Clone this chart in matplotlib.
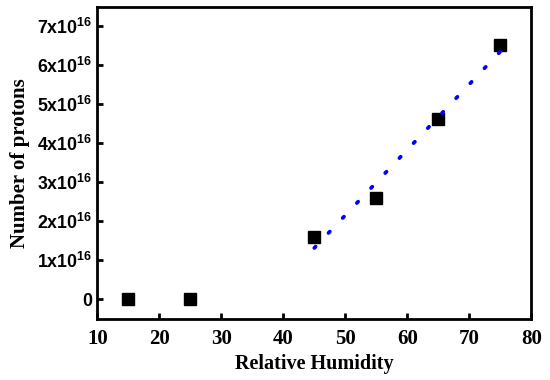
import matplotlib
matplotlib.use("Agg")
import matplotlib.pyplot as plt
import numpy as np

humidity = [15, 25, 45, 55, 65, 75]
protons = [0.0, 0.0, 1.59e16, 2.59e16, 4.62e16, 6.51e16]
fit_x = [45, 75]
x_ticks = [10, 20, 30, 40, 50, 60, 70, 80]
y_ticks = [0, 1e16, 2e16, 3e16, 4e16, 5e16, 6e16, 7e16]
y_labels = ["0"] + [r"%dx10$^{\mathbf{16}}$" % i for i in range(1, 8)]

plt.rcParams["mathtext.fontset"] = "custom"
plt.rcParams["mathtext.rm"] = "Liberation Sans:bold"
plt.rcParams["mathtext.bf"] = "Liberation Sans:bold"
plt.rcParams["mathtext.it"] = "Liberation Sans:bold"

fig = plt.figure(figsize=(5.5, 3.8), dpi=100)
ax = fig.add_axes([0.177, 0.1605, 0.789, 0.821])

# linear fit over the humid points
hx = np.array(humidity[2:])
hy = np.array(protons[2:])
k, b = np.polyfit(hx, hy, 1)
fx = np.array(fit_x)
ax.plot(fx, k * fx + b, color="#0000ff", lw=2.7, linestyle=(0, (0.5, 5.0)),
        dash_capstyle="round", zorder=3)

ax.plot(humidity, protons, "s", color="black", markersize=8.8, zorder=2)

ax.set_xlim(10, 80)
ax.set_ylim(-0.513e16, 7.487e16)
ax.set_xticks(x_ticks)
ax.set_yticks(y_ticks)
ax.set_xticklabels([str(t) for t in x_ticks], fontfamily="Liberation Serif",
                   fontweight="bold", fontsize=15)
ax.set_yticklabels(y_labels, fontfamily="Liberation Sans", fontweight="bold",
                   fontsize=12.8)
ax.tick_params(direction="in", width=2, length=4)
ax.tick_params(axis="x", pad=7)
ax.tick_params(axis="y", pad=4)
for s in ax.spines.values():
    s.set_linewidth(2)

ax.set_xlabel("Relative Humidity", fontfamily="Liberation Serif",
              fontweight="bold", fontsize=14.5, labelpad=4)
ax.set_ylabel("Number of protons", fontfamily="Liberation Serif",
              fontweight="bold", fontsize=15, labelpad=5)

fig.savefig("out.png", dpi=100)
